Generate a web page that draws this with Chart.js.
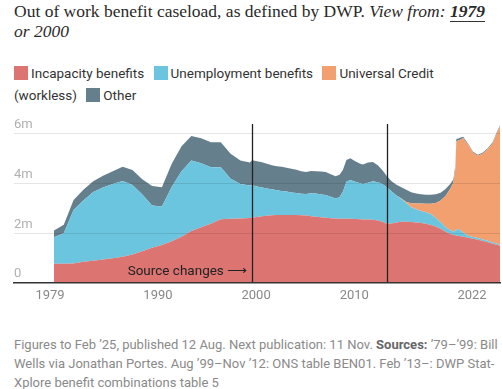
<!DOCTYPE html>
<html>
<head>
<meta charset="utf-8">
<script src="https://cdn.jsdelivr.net/npm/chart.js@4"></script>
<style>
  body { margin: 0; width: 502px; height: 389px; background: #fff; position: relative; overflow: hidden; font-family: Roboto, sans-serif; }
  #title { position: absolute; left: 14px; top: 1px; width: 488px; font: 17.5px/20px "Liberation Serif", serif; color: #2a2a2a; }
  #title u { text-decoration: none; border-bottom: 1.5px solid #333; font-weight: bold; }
  #legend { position: absolute; left: 14px; top: 62px; width: 486px; font-size: 13.5px; line-height: 22px; color: #333; }
  #legend .sw { display: inline-block; width: 14px; height: 14px; vertical-align: -2px; margin-right: 3px; }
  #legend .item { margin-right: 6px; }
  #chartBox { position: absolute; left: 0; top: 110px; width: 502px; height: 200px; }
  #footer { position: absolute; left: 14px; top: 335px; width: 487px; font-size: 13px; line-height: 19px; color: #8a8a8a; }
  #footer b { color: #666; }
</style>
</head>
<body>
<div id="title">Out of work benefit caseload, as defined by DWP. <i>View from: <u>1979</u> or 2000</i></div>
<div id="legend"></div>
<div id="chartBox"><canvas id="chart"></canvas></div>
<div id="footer">Figures to Feb ’25, published 12 Aug. Next publication: 11 Nov. <b>Sources:</b> ’79–’99: Bill Wells via Jonathan Portes. Aug ’99–Nov ’12: ONS table BEN01. Feb ’13–: DWP Stat-Xplore benefit combinations table 5</div>

<script>
// Dates as decimal years (annual to '99, then ONS, then Stat-Xplore)
const dates = [
  1979.4, 1980.4, 1981.4, 1982.4, 1983.4, 1984.4, 1985.4, 1986.4, 1987.4, 1988.4,
  1989.4, 1990.4, 1991.4, 1992.4, 1993.4, 1994.4, 1995.4, 1996.4, 1997.4, 1998.4, 1999.35,
  1999.6, 2000.1, 2000.6, 2001.1, 2001.6, 2002.1, 2002.6, 2003.1, 2003.6, 2004.1,
  2004.6, 2005.1, 2005.6, 2006.1, 2006.6, 2007.1, 2007.6, 2008.1, 2008.5, 2008.85,
  2009.2, 2009.6, 2010.1, 2010.6, 2010.9, 2011.4, 2011.9, 2012.4, 2012.85,
  2013.3, 2013.8, 2014.3, 2014.8, 2015.3, 2015.8, 2016.3, 2016.8, 2017.3, 2017.8,
  2018.3, 2018.8, 2019.3, 2019.8, 2020.1, 2020.3, 2020.4, 2020.6, 2020.85, 2021.1,
  2021.6, 2022.1, 2022.6, 2023.1, 2023.6, 2024.1, 2024.5, 2024.85
];

// Caseloads in millions
const incapacity = [
  0.77, 0.77, 0.78, 0.86, 0.90, 0.95, 1.00, 1.06, 1.15, 1.28,
  1.42, 1.53, 1.68, 1.86, 2.09, 2.24, 2.38, 2.57, 2.59, 2.60, 2.62,
  2.63, 2.66, 2.69, 2.71, 2.73, 2.74, 2.74, 2.74, 2.74, 2.74,
  2.73, 2.72, 2.69, 2.67, 2.65, 2.63, 2.61, 2.60, 2.59, 2.59,
  2.59, 2.59, 2.58, 2.57, 2.56, 2.56, 2.55, 2.52, 2.47,
  2.38, 2.40, 2.44, 2.47, 2.47, 2.46, 2.44, 2.42, 2.38, 2.33,
  2.27, 2.18, 2.06, 1.97, 1.93, 1.92, 1.91, 1.89, 1.88, 1.86,
  1.82, 1.78, 1.74, 1.69, 1.64, 1.58, 1.54, 1.50
];
const unemployment = [
  1.07, 1.23, 2.16, 2.46, 2.76, 2.89, 2.98, 3.05, 2.79, 2.28,
  1.70, 1.55, 2.18, 2.64, 2.84, 2.58, 2.28, 2.09, 1.61, 1.38, 1.30,
  1.30, 1.22, 1.15, 1.09, 1.04, 0.99, 0.96, 0.94, 0.90, 0.88,
  0.86, 0.86, 0.92, 0.93, 0.91, 0.91, 0.86, 0.80, 0.86, 1.09,
  1.49, 1.56, 1.50, 1.45, 1.42, 1.48, 1.55, 1.54, 1.51,
  1.48, 1.28, 1.08, 0.91, 0.75, 0.59, 0.53, 0.48, 0.47, 0.45,
  0.35, 0.27, 0.18, 0.15, 0.14, 0.18, 0.24, 0.28, 0.22, 0.17,
  0.08, 0.07, 0.07, 0.06, 0.06, 0.05, 0.05, 0.04
];
const universalCredit = [
  0, 0, 0, 0, 0, 0, 0, 0, 0, 0,
  0, 0, 0, 0, 0, 0, 0, 0, 0, 0, 0,
  0, 0, 0, 0, 0, 0, 0, 0, 0, 0,
  0, 0, 0, 0, 0, 0, 0, 0, 0, 0,
  0, 0, 0, 0, 0, 0, 0, 0, 0,
  0, 0, 0, 0.02, 0.04, 0.16, 0.23, 0.30, 0.34, 0.41,
  0.60, 0.87, 1.26, 1.68, 1.98, 2.50, 3.55, 3.57, 3.68, 3.81,
  3.66, 3.39, 3.31, 3.46, 3.68, 3.99, 4.41, 4.76
];
const other = [
  0.27, 0.34, 0.40, 0.43, 0.44, 0.48, 0.52, 0.57, 0.61, 0.62,
  0.78, 0.77, 0.94, 1.00, 0.99, 1.01, 1.01, 1.01, 1.00, 0.95, 0.93,
  1.01, 1.02, 1.02, 1.00, 0.97, 0.97, 0.98, 0.96, 0.96, 0.94,
  0.91, 0.89, 0.90, 0.90, 0.93, 0.93, 0.91, 0.90, 0.91, 0.88,
  0.87, 0.87, 0.82, 0.78, 0.79, 0.81, 0.77, 0.68, 0.57,
  0.46, 0.42, 0.43, 0.45, 0.49, 0.44, 0.40, 0.37, 0.36, 0.36,
  0.35, 0.31, 0.28, 0.20, 0.13, 0.10, 0.10, 0.08, 0.08, 0.05,
  0.05, 0.04, 0.04, 0.04, 0.04, 0.05, 0.05, 0.04
];

const tickYears = [1979, 1990, 2000, 2010, 2022];
const yTicks = [0, 2, 4, 6];
const sourceBreaks = [1999.6, 2013.3];

const series = [
  { label: "Incapacity benefits", values: incapacity, color: "#dc7472" },
  { label: "Unemployment benefits", values: unemployment, color: "#6cc5df" },
  { label: "Universal Credit (workless)", values: universalCredit, color: "#f2a06f" },
  { label: "Other", values: other, color: "#65808c" },
];

// HTML legend, wraps like running text
const legend = document.getElementById("legend");
series.forEach((s) => {
  const item = document.createElement("span");
  item.className = "item";
  item.innerHTML = `<span class="sw" style="background:${s.color}"></span>${s.label}`;
  legend.appendChild(item);
  legend.appendChild(document.createTextNode(" "));
});

// Vertical lines where the data source changes, plus the note
const sourceLines = {
  id: "sourceLines",
  afterDatasetsDraw(chart) {
    const { ctx, chartArea, scales } = chart;
    ctx.save();
    ctx.strokeStyle = "#222";
    ctx.lineWidth = 1.3;
    sourceBreaks.forEach((v) => {
      const x = Math.round(scales.x.getPixelForValue(v)) + 0.5;
      ctx.beginPath();
      ctx.moveTo(x, chartArea.top);
      ctx.lineTo(x, chartArea.bottom);
      ctx.stroke();
    });
    const x0 = scales.x.getPixelForValue(sourceBreaks[0]);
    ctx.fillStyle = "#222";
    ctx.font = "13.5px Roboto";
    ctx.textAlign = "right";
    ctx.textBaseline = "middle";
    ctx.fillText("Source changes \u27F6", x0 - 5, chartArea.bottom - 11);
    ctx.restore();
  },
};

new Chart(document.getElementById("chart"), {
  type: "line",
  data: {
    datasets: series.map((s, i) => ({
      label: s.label,
      data: dates.map((d, j) => ({ x: d, y: s.values[j] })),
      backgroundColor: s.color,
      borderWidth: 0,
      pointRadius: 0,
      tension: 0,
      fill: i === 0 ? "origin" : "-1",
    })),
  },
  options: {
    responsive: true,
    maintainAspectRatio: false,
    animation: false,
    events: [],
    layout: { padding: { left: 14, right: 2, top: 14, bottom: 0 } },
    plugins: { legend: { display: false }, tooltip: { enabled: false } },
    scales: {
      x: {
        type: "linear",
        min: 1975.33,
        max: 2024.85,
        afterBuildTicks: (axis) => { axis.ticks = tickYears.map((v) => ({ value: v })); },
        afterFit: (axis) => { axis.height = 27; },
        grid: { display: false, drawTicks: false },
        border: { display: true, color: "#333", width: 1.5, z: 1 },
        ticks: {
          padding: 5,
          color: "#888",
          font: { family: "Roboto", size: 13 },
          callback: (v) => String(v),
          maxRotation: 0,
        },
      },
      y: {
        stacked: true,
        min: 0,
        max: 6.4,
        afterBuildTicks: (axis) => { axis.ticks = yTicks.map((v) => ({ value: v })); },
        grid: {
          z: 1,
          drawTicks: false,
          color: (c) => (c.tick && c.tick.value === 0 ? "rgba(0,0,0,0)" : "rgba(0,0,0,0.1)"),
        },
        border: { display: false },
        ticks: {
          mirror: true,
          padding: 0,
          labelOffset: -9,
          color: "#b0b0b0",
          font: { family: "Roboto", size: 13 },
          callback: (v) => (v === 0 ? "0" : v + "m"),
        },
      },
    },
  },
  plugins: [sourceLines],
});
</script>
</body>
</html>
